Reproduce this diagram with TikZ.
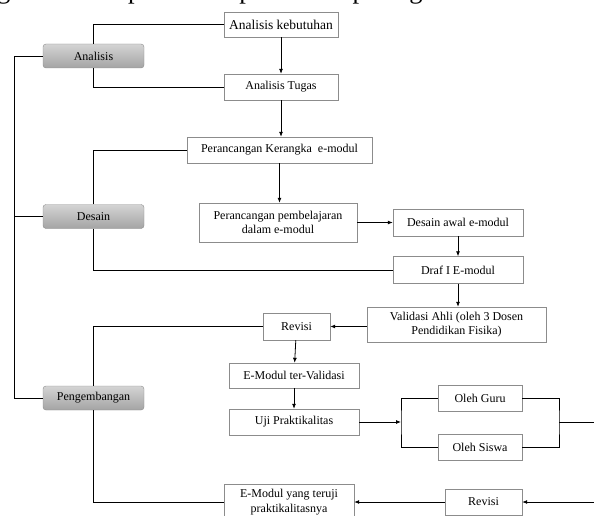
\documentclass[tikz,border=0pt]{standalone}
\usepackage{fontspec}
\setmainfont{Liberation Serif}
\usetikzlibrary{positioning,arrows.meta}
\definecolor{boxline}{HTML}{8C8C8C}
\definecolor{phasetop}{HTML}{D4D4D4}
\definecolor{phasebot}{HTML}{A4A4A4}

\begin{document}
\begin{tikzpicture}[x=1pt,y=-1pt,
    wbox/.style={draw=boxline,fill=white,inner sep=1pt,align=center,font=\fontsize{12}{14.5}\selectfont},
    phase/.style={draw=boxline,rounded corners=3pt,top color=phasetop,bottom color=phasebot,
      minimum width=101pt,minimum height=24pt,inner sep=1pt,font=\fontsize{12}{14.5}\selectfont},
    link/.style={line width=0.8pt},
    flow/.style={line width=0.8pt,-{Latex[length=5pt,width=4pt]}}]
  \useasboundingbox (0,0) rectangle (594,516);
  \clip (0,0) rectangle (594,516);
  % running text above the figure
  \node[anchor=base west,inner sep=0pt,font=\fontsize{26.5}{26.5}\selectfont] (intro) at (-3,-1)
    {g dilakukan peneliti dapat dilihat pada gambar 1 berikut};
  % phases
  \node[phase] (ana)    at (93.5,56)    {Analisis};
  \node[phase] (desain) at (93.5,216.5) {Desain};
  \node[phase] (peng)   at (93.5,398)   {Pengembangan};
  % steps: name, x, y, width, height, text
  \foreach \bname/\bx/\by/\bw/\bh/\btext in {
      kebut/281/24.5/114/25/{\fontsize{13.5}{15}\selectfont Analisis kebutuhan},
      tugas/281/87/114/26/{Analisis Tugas},
      kerangka/279.5/150/185/26/{Perancangan Kerangka\ \ e-modul},
      pemb/278/222.5/158/39/{Perancangan pembelajaran\\dalam e-modul},
      awal/458/222.5/130/27/{Desain awal e-modul},
      draf/458/270/130/27/{Draf I E-modul},
      valid/456.5/324.5/179/35/{Validasi Ahli (oleh 3 Dosen\\Pendidikan Fisika)},
      revisi/296.5/326.5/67/27/{Revisi},
      tervalid/294/375.5/130/25/{E-Modul ter-Validasi},
      uji/294/422/130/26/{Uji Praktikalitas},
      guru/480/398/84/26/{Oleh Guru},
      siswa/480/447/84/26/{Oleh Siswa},
      revisiB/483.5/502/77/26/{Revisi},
      teruji/289/502/130/36/{E-Modul yang teruji\\praktikalitasnya}} {
    \node[wbox,minimum width=\bw pt,minimum height=\bh pt] (\bname) at (\bx,\by) {\btext};
  }
  % spine on the left
  \coordinate (sp1) at (14,56);
  \coordinate (sp2) at (14,398);
  \draw[link] (ana.west) -- (sp1) -- (sp2) -- (peng.west);
  \draw[link] (desain.west) -- (desain.west -| sp1);
  % analisis
  \draw[link] (ana.north) |- (kebut.west);
  \draw[link] (ana.south) |- (tugas.west);
  \draw[flow] (kebut) -- (tugas);
  \draw[flow] (tugas.south) -- (tugas.south |- kerangka.north);
  % desain
  \draw[link] (desain.north) |- (kerangka.west);
  \draw[link] (desain.south) |- (draf.west);
  \draw[flow] (kerangka.south) -- (kerangka.south |- pemb.north);
  \draw[flow] (pemb.east) -- (awal.west);
  \draw[flow] (awal) -- (draf);
  % pengembangan
  \draw[flow] (draf.south) -- (draf.south |- valid.north);
  \draw[flow] (valid.west |- revisi) -- (revisi.east);
  \draw[link] (peng.north) |- (revisi.west);
  \draw[link] (peng.south) |- (teruji.west);
  \draw[flow] (revisi) -- (tervalid);
  \draw[flow] (tervalid) -- (uji);
  \coordinate (bl) at (401,422);
  \coordinate (br) at (559,422);
  \coordinate (outR) at (594,422);
  \coordinate (inR) at (594,502);
  \draw[flow] (uji.east) -- (bl);
  \draw[link] (guru.west) -| (bl) |- (siswa.west);
  \draw[link] (guru.east) -| (br) |- (siswa.east);
  \draw[link] (br) -- (outR);
  \draw[flow] (inR) -- (revisiB.east);
  \draw[flow] (revisiB.west) -- (teruji.east);
\end{tikzpicture}
\end{document}
